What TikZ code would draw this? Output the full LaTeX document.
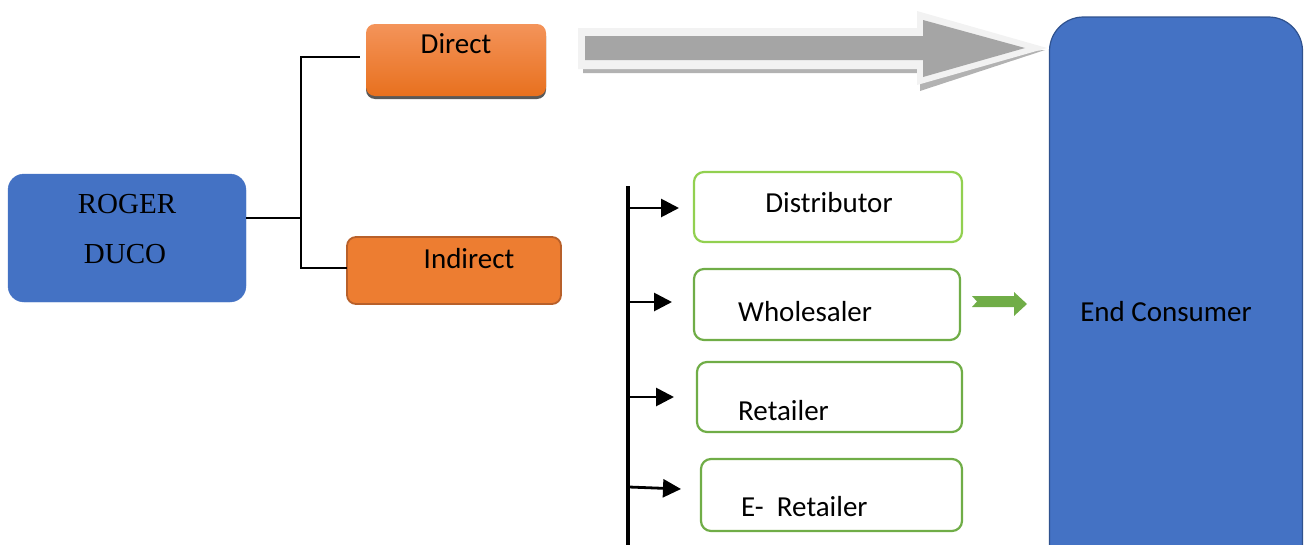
\documentclass[tikz,border=0pt]{standalone}
\usepackage{fontspec}
\setmainfont{Carlito}
\newfontfamily\seriffont{Liberation Serif}
\usetikzlibrary{arrows.meta,shadows}
\definecolor{boxblue}{HTML}{4472C4}
\definecolor{blueedge}{HTML}{2F528F}
\definecolor{orangeA}{HTML}{F4945A}
\definecolor{orangeB}{HTML}{E8701E}
\definecolor{orangeC}{HTML}{ED7D31}
\definecolor{orangeedge}{HTML}{B8602A}
\definecolor{greenA}{HTML}{92D050}
\definecolor{greenB}{HTML}{70AD47}
\definecolor{arrgray}{HTML}{A5A5A5}
\definecolor{arrwhite}{HTML}{F2F2F2}
\tikzset{
  x=1pt,y=-1pt,
  lbl/.style={font=\fontsize{29}{34}\selectfont, inner sep=0pt, anchor=base},
  greenbox/.style={draw=greenB, line width=2.2pt, rounded corners=10pt, fill=white},
  conn/.style={draw=black, line width=2.6pt},
  tick/.style={draw=black, line width=2.8pt, -{Triangle[length=18pt,width=18pt]}},
}
\begin{document}
\begin{tikzpicture}
\useasboundingbox (0,0) rectangle (1304,544);
\clip (0,0) rectangle (1304,544);
% ROGER DUCO
\node[draw=boxblue, fill=boxblue, rounded corners=16pt, minimum width=238pt, minimum height=128pt, inner sep=0pt] (roger) at (127,238) {};
\node[font=\seriffont\fontsize{29}{34}\selectfont, inner sep=0pt, anchor=base] (rogerA) at (127,213) {ROGER};
\node[font=\seriffont\fontsize{29}{34}\selectfont, inner sep=0pt, anchor=base] (rogerB) at (125,263) {DUCO};
% Direct
\node[rounded corners=9pt, minimum width=180pt, minimum height=72pt, inner sep=0pt, top color=orangeA, bottom color=orangeB, drop shadow={shadow xshift=0pt, shadow yshift=-3pt, fill=black!65, opacity=1}] (direct) at (456,60) {};
\node[lbl] (directT) at (456,53) {Direct};
% Indirect
\node[draw=orangeedge, line width=1.8pt, fill=orangeC, rounded corners=9pt, minimum width=214pt, minimum height=67pt, inner sep=0pt] (indirect) at (454,270.5) {};
\node[lbl] (indirectT) at (469,268) {Indirect};
% connectors from Roger
\coordinate (jA) at (301,218);
\coordinate (dEnd) at (359,57);
\draw[conn] (roger.east |- jA) -- (jA);
\draw[conn, line cap=rect] (dEnd) -| (301,268) -- (indirect.west |- 0,268);
% big gray arrow
\fill[black!30] (583,67) -- (920,67) -- (920,58) -- (1045,50) -- (920,91) -- (920,73) -- (583,73) -- cycle;
\fill[arrwhite] (578,28) -- (917,28) -- (917,11) -- (1047,48) -- (917,85) -- (917,69) -- (578,69) -- cycle;
\fill[arrgray] (585,36) -- (923,36) -- (923,20) -- (1025,48) -- (923,77) -- (923,60) -- (585,60) -- cycle;
% End Consumer
\node[draw=blueedge, line width=1.2pt, fill=boxblue, rounded corners=34pt, minimum width=253pt, minimum height=570pt, inner sep=0pt] (endc) at (1176,302) {};
\node[lbl] (endT) at (1166,321) {End Consumer};
% vertical bar
\coordinate (vtop) at (628,186);
\coordinate (vbot) at (628,548);
\draw[black, line width=3.4pt] (vtop) -- (vbot);
% green boxes
\node[greenbox, draw=greenA, minimum width=268pt, minimum height=70pt, inner sep=0pt] (dist) at (828,207) {};
\node[lbl] (distT) at (829,212) {Distributor};
\node[greenbox, minimum width=266pt, minimum height=71pt, inner sep=0pt] (whole) at (827,304.5) {};
\node[lbl, anchor=base west] (wholeT) at (738,321) {Wholesaler};
\node[greenbox, minimum width=265pt, minimum height=70pt, inner sep=0pt] (ret) at (829.5,397) {};
\node[lbl, anchor=base west] (retT) at (738,420) {Retailer};
\node[greenbox, minimum width=261pt, minimum height=72pt, inner sep=0pt] (eret) at (831.5,495) {};
\node[lbl, anchor=base west] (eretT) at (741,516) {E-\ \ Retailer};
% small arrows
\coordinate (a1) at (629,208);
\coordinate (a2) at (629,302);
\coordinate (a3) at (629,397);
\coordinate (a4) at (629,487);
\coordinate (b1) at (679,208);
\coordinate (b2) at (672,302);
\coordinate (b3) at (674,397);
\coordinate (b4) at (681,489);
\draw[tick] (a1) -- (b1);
\draw[tick] (a2) -- (b2);
\draw[tick] (a3) -- (b3);
\draw[tick] (a4) -- (b4);
% green arrow
\fill[greenB] (972,296) -- (1014,296) -- (1014,292) -- (1027,304) -- (1014,316) -- (1014,307) -- (972,307) -- (977,301.5) -- cycle;
\end{tikzpicture}
\end{document}
